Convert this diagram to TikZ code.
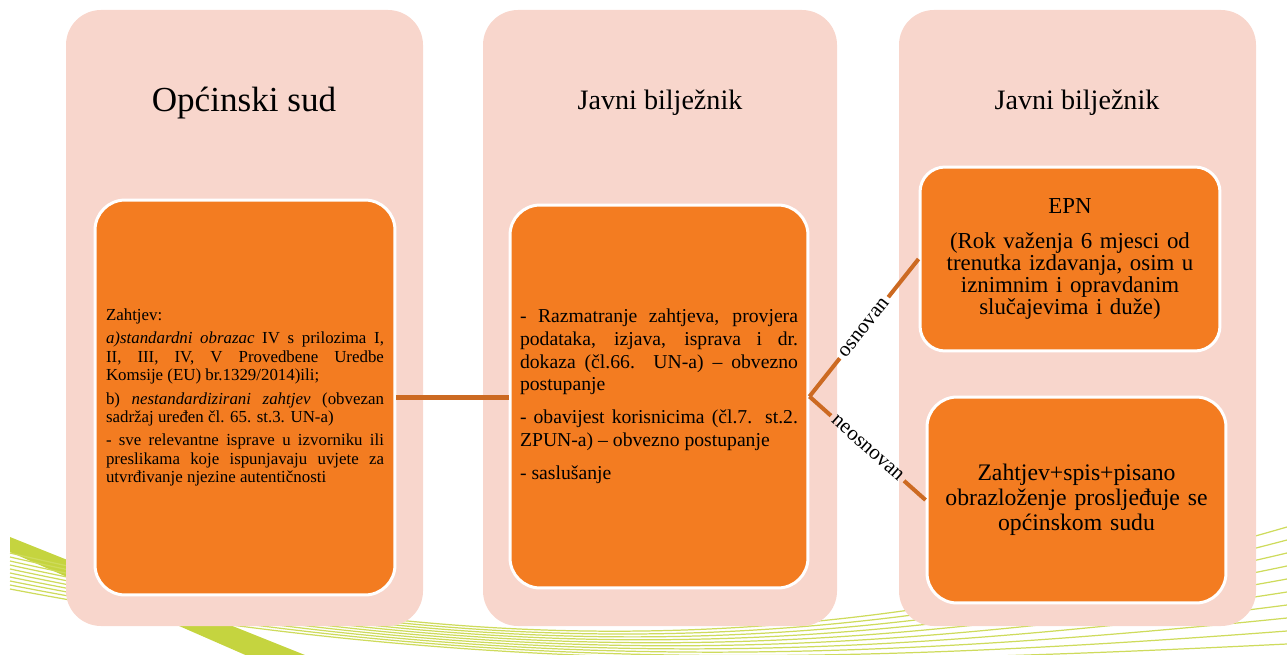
\documentclass[tikz,border=0pt]{standalone}
\usepackage{fontspec}
\setmainfont{Liberation Serif}
\usepackage{xcolor}
\usepackage{tikz}
\definecolor{pinkbg}{HTML}{F8D6CC}
\definecolor{orangebox}{HTML}{F37C21}
\definecolor{linkcol}{HTML}{CC6A22}
\definecolor{swoosh}{HTML}{C5D43F}
\hyphenpenalty=10000

\begin{document}
\begin{tikzpicture}[x=0.02cm,y=-0.02cm,
col/.style={fill=pinkbg,rounded corners=0.7cm},
box/.style={draw=white,line width=1.7pt,fill=orangebox,rounded corners=0.6cm,inner xsep=0.2cm},
head/.style={anchor=base,text=black},
link/.style={draw=linkcol,line width=2.3pt},
lbl/.style={sloped,inner sep=2pt,font=\fontsize{12}{12}\selectfont}]
\useasboundingbox (0,0) rectangle (1287,655);
\begin{scope}
\clip (0,0) rectangle (1287,655);
\fill[swoosh](10,537)--(310,657)--(250,657)--(10,552)--cycle;
\foreach \k in {0,...,9}
\draw[swoosh!85,line width=0.7pt](10,553+4*\k) .. controls (450,655+2*\k) and (800,668) .. (1287,527+13*\k);
\end{scope}
\foreach \a/\b in {66/423,483/837,899/1256}
\fill[col](\a,10) rectangle (\b,626);
\node[head,font=\fontsize{20}{20}\selectfont] (t1) at (244,112) {Općinski sud};
\node[head,font=\fontsize{16}{16}\selectfont] (t2) at (660,110) {Javni bilježnik};
\node[head,font=\fontsize{16}{16}\selectfont] (t3) at (1077,110) {Javni bilježnik};
\node[box,minimum width=6cm,minimum height=7.9cm,text width=5.56cm,align=justify,
font=\fontsize{9.6}{10.5}\selectfont,execute at begin node=\setlength{\parskip}{2.8pt}] (zah) at (245,397.5)
{Zahtjev:\par
\textit{a)standardni obrazac} IV s prilozima I,\linebreak II, III, IV, V Provedbene Uredbe\linebreak Komsije (EU) br.1329/2014)ili;\par
b) \textit{nestandardizirani zahtjev} (obvezan\linebreak sadržaj uređen čl. 65. st.3. UN-a)\par
- sve relevantne isprave u izvorniku ili\linebreak preslikama koje ispunjavaju uvjete za\linebreak utvrđivanje njezine autentičnosti};
\node[box,minimum width=5.96cm,minimum height=7.66cm,text width=5.56cm,align=justify,
font=\fontsize{11.2}{12.9}\selectfont,execute at begin node=\setlength{\parskip}{6pt}] (razm) at (659,396.5)
{- Razmatranje zahtjeva, provjera\linebreak podataka, izjava, isprava i dr.\linebreak dokaza (čl.66. UN-a) – obvezno\linebreak postupanje\par
- obavijest korisnicima (čl.7. st.2.\linebreak ZPUN-a) – obvezno postupanje\par
- saslušanje};
\node[box,rounded corners=0.5cm,minimum width=6cm,minimum height=3.68cm,text width=5.6cm,align=center,
font=\fontsize{13}{12.6}\selectfont] (epn) at (1070,259)
{EPN\\[7pt](Rok važenja 6 mjesci od\\ trenutka izdavanja, osim u\\ iznimnim i opravdanim\\ slučajevima i duže)};
\node[box,minimum width=5.98cm,minimum height=4.12cm,text width=5.58cm,align=center,
font=\fontsize{13.5}{14.2}\selectfont] (sud) at (1076.5,500)
{Zahtjev+spis+pisano\\ obrazloženje prosljeđuje se\\ općinskom sudu};
\draw[link](zah.east)--(zah.east-|razm.west);
\path (razm.east)--node[lbl] (osn) {osnovan} (epn.west);
\path (razm.east)--node[lbl] (neosn) {neosnovan} (sud.west);
\draw[link](razm.east)--(osn) (osn)--(epn.west);
\draw[link](razm.east)--(neosn) (neosn)--(sud.west);
\end{tikzpicture}
\end{document}
